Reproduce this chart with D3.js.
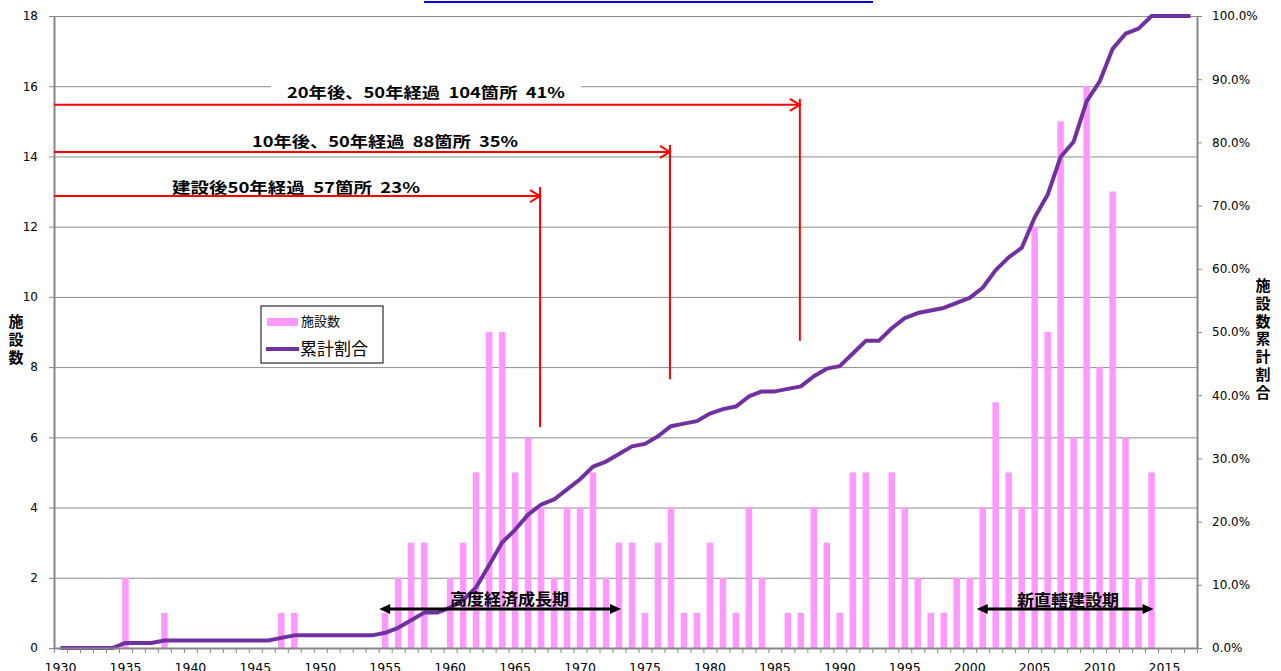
<!DOCTYPE html>
<html>
<head>
<meta charset="utf-8">
<script src="https://cdn.jsdelivr.net/npm/d3@7"></script>
<style>
body { margin: 0; background: #fff; }
text { font-family: "DejaVu Sans", Verdana, sans-serif; }
.jp { font-family: "Noto Sans CJK JP", sans-serif; }
</style>
</head>
<body>
<script>
// 年ごとの施設数 (1930-2017)
var years = d3.range(1930, 2018);
var counts = [
  0,0,0,0,0, 2,0,0,1,0,
  0,0,0,0,0, 0,0,1,1,0,
  0,0,0,0,0, 1,2,3,3,0,
  2,3,5,9,9, 5,6,4,2,4,
  4,5,2,3,3, 1,3,4,1,1,
  3,2,1,4,2, 0,1,1,4,3,
  1,5,5,0,5, 4,2,1,1,2,
  2,4,7,5,4, 12,9,15,6,16,
  8,13,6,2,5, 0,0,0
];
// 累計割合 (%)
var cumPct = [
  0,0,0,0,0, 0.8,0.8,0.8,1.2,1.2,
  1.2,1.2,1.2,1.2,1.2, 1.2,1.2,1.6,2.0,2.0,
  2.0,2.0,2.0,2.0,2.0, 2.4,3.2,4.4,5.6,5.6,
  6.4,7.6,9.6,13.1,16.7, 18.7,21.1,22.7,23.5,25.1,
  26.7,28.7,29.5,30.7,31.9, 32.3,33.5,35.1,35.5,35.9,
  37.1,37.8,38.2,39.8,40.6, 40.6,41.0,41.4,43.0,44.2,
  44.6,46.6,48.6,48.6,50.6, 52.2,53.0,53.4,53.8,54.6,
  55.4,57.0,59.8,61.8,63.3, 68.1,71.7,77.7,80.1,86.5,
  89.6,94.8,97.2,98.0,100, 100,100,100
];
var leftTicks = d3.range(0, 19, 2);
var rightTicks = d3.range(0, 101, 10);
var labelYears = d3.range(1930, 2018, 5);

// 50年経過の注記
var marks = [
  {year: 1967, text: "建設後50年経過  57箇所  23%"},
  {year: 1977, text: "10年後、50年経過  88箇所  35%"},
  {year: 1987, text: "20年後、50年経過  104箇所  41%"}
];
var periods = [
  {from: 1955, to: 1973, text: "高度経済成長期"},
  {from: 2001, to: 2014, text: "新直轄建設期"}
];

var W = 1281, H = 671;
var L = 54, R = 1197, T = 16, B = 648;

var svg = d3.select("body").append("svg").attr("width", W).attr("height", H);

var x = d3.scaleBand().domain(years).range([L, R]);
var xl = d3.scaleLinear().domain([1929.5, 2017.5]).range([L, R]);
var y = d3.scaleLinear().domain([0, 18]).range([B, T]);
var y2 = d3.scaleLinear().domain([0, 100]).range([B, T]);
var cx = function(yr) { return x(yr) + x.bandwidth() / 2; };

// title underline (cut off at top)
svg.append("line").attr("x1", 424).attr("x2", 873).attr("y1", 2).attr("y2", 2)
  .attr("stroke", "#0000ff").attr("stroke-width", 2);

// gridlines
svg.append("g").selectAll("line").data(leftTicks.slice(1)).join("line")
  .attr("x1", L).attr("x2", R)
  .attr("y1", function(d) { return y(d) + 0.5; }).attr("y2", function(d) { return y(d) + 0.5; })
  .attr("stroke", "#8c8c8c").attr("stroke-width", 1);

// bars
var bw = 6.5;
svg.append("g").selectAll("rect").data(years).join("rect")
  .attr("x", function(d) { return cx(d) - bw / 2; })
  .attr("width", bw)
  .attr("y", function(d, i) { return y(counts[i]); })
  .attr("height", function(d, i) { return B - y(counts[i]); })
  .attr("fill", "#ff99ff");

// cumulative line
var line = d3.line()
  .x(function(d) { return cx(d); })
  .y(function(d, i) { return y2(cumPct[i]); });
svg.append("path").datum(years).attr("d", line)
  .attr("fill", "none").attr("stroke", "#7030a0").attr("stroke-width", 4)
  .attr("stroke-linejoin", "round");

// axes
function styleAxis(g) {
  g.select(".domain").attr("stroke", "#868686").attr("stroke-width", 2);
  g.selectAll(".tick line").attr("stroke", "#868686");
  g.selectAll("text").attr("fill", "#000").attr("font-size", 12)
    .attr("font-family", "'DejaVu Sans', Verdana, sans-serif");
}
svg.append("g").attr("transform", "translate(" + L + ",0)")
  .call(d3.axisLeft(y).tickValues(leftTicks).tickSize(5).tickSizeOuter(0).tickPadding(11))
  .call(styleAxis);
svg.append("g").attr("transform", "translate(" + R + ",0)")
  .call(d3.axisRight(y2).tickValues(rightTicks).tickSize(5).tickSizeOuter(0).tickPadding(10)
    .tickFormat(function(d) { return d.toFixed(1) + "%"; }))
  .call(styleAxis);
svg.append("g").attr("transform", "translate(0," + B + ")")
  .call(d3.axisBottom(xl).tickValues(d3.range(1929.5, 2018, 1)).tickFormat("").tickSize(5).tickSizeOuter(0))
  .call(styleAxis);
svg.append("g").attr("transform", "translate(0," + B + ")")
  .call(d3.axisBottom(x).tickValues(labelYears).tickSize(0).tickPadding(15))
  .call(styleAxis)
  .call(function(g) { g.select(".domain").remove(); g.selectAll("text").attr("font-size", 12.5); });

// axis titles
svg.append("g").selectAll("text").data("施設数".split("")).join("text")
  .attr("class", "jp").attr("x", 16).attr("y", function(d, i) { return 327 + i * 17.8; })
  .attr("text-anchor", "middle").attr("font-size", 15).attr("font-weight", "bold").text(function(d) { return d; });
svg.append("g").selectAll("text").data("施設数累計割合".split("")).join("text")
  .attr("class", "jp").attr("x", 1263).attr("y", function(d, i) { return 291 + i * 17.8; })
  .attr("text-anchor", "middle").attr("font-size", 15).attr("font-weight", "bold").text(function(d) { return d; });

// annotations: 50年経過
var ann = [
  {hy: 12.87, top: 13.13, bot: 6.29, tx: 172, tw: 248, ty: 193},
  {hy: 14.13, top: 14.33, bot: 7.65, tx: 252, tw: 266, ty: 147},
  {hy: 15.47, top: 15.64, bot: 8.75, tx: 287, tw: 278, ty: 98}
];
var ag = svg.append("g");
marks.forEach(function(m, i) {
  var a = ann[i];
  ag.append("rect").attr("x", a.tx - 16).attr("y", a.ty - 18).attr("width", a.tw + 32).attr("height", 22)
    .attr("fill", "#fff");
  ag.append("text").attr("class", "jp").attr("x", a.tx).attr("y", a.ty)
    .attr("font-size", 15).attr("font-weight", "bold").attr("fill", "#000")
    .style("white-space", "pre")
    .attr("textLength", a.tw).attr("lengthAdjust", "spacingAndGlyphs")
    .text(m.text);
});
marks.forEach(function(m, i) {
  var a = ann[i], xe = cx(m.year) - 1, yy = y(a.hy);
  ag.append("line").attr("x1", L).attr("x2", xe).attr("y1", yy).attr("y2", yy)
    .attr("stroke", "#ff0000").attr("stroke-width", 2);
  ag.append("path").attr("d", "M" + (xe - 10) + "," + (yy - 6) + "L" + xe + "," + yy + "L" + (xe - 10) + "," + (yy + 6))
    .attr("fill", "none").attr("stroke", "#ff0000").attr("stroke-width", 2);
  ag.append("line").attr("x1", xe).attr("x2", xe).attr("y1", y(a.top)).attr("y2", y(a.bot))
    .attr("stroke", "#ff0000").attr("stroke-width", 2);
});

// period arrows
var pg = svg.append("g");
var py = y(1.11);
periods.forEach(function(p) {
  var x1 = cx(p.from) - 6, x2 = cx(p.to) + 2;
  pg.append("line").attr("x1", x1 + 8).attr("x2", x2 - 8).attr("y1", py).attr("y2", py)
    .attr("stroke", "#000").attr("stroke-width", 3);
  pg.append("path").attr("d", "M" + x1 + "," + py + "L" + (x1 + 11) + "," + (py - 5) + "L" + (x1 + 11) + "," + (py + 5) + "Z")
    .attr("fill", "#000");
  pg.append("path").attr("d", "M" + x2 + "," + py + "L" + (x2 - 11) + "," + (py - 5) + "L" + (x2 - 11) + "," + (py + 5) + "Z")
    .attr("fill", "#000");
});
pg.append("text").attr("class", "jp").attr("x", 450).attr("y", 605).attr("font-size", 16).attr("font-weight", "bold")
  .attr("textLength", 119).attr("lengthAdjust", "spacingAndGlyphs").text(periods[0].text);
pg.append("text").attr("class", "jp").attr("x", 1017).attr("y", 606).attr("font-size", 16).attr("font-weight", "bold")
  .attr("textLength", 102).attr("lengthAdjust", "spacingAndGlyphs").text(periods[1].text);

// legend
var lg = svg.append("g").attr("transform", "translate(261,306)");
lg.append("rect").attr("width", 122).attr("height", 57).attr("fill", "#fff").attr("stroke", "#000").attr("stroke-width", 1);
lg.append("rect").attr("x", 6).attr("y", 12).attr("width", 31).attr("height", 8).attr("fill", "#ff99ff");
lg.append("text").attr("class", "jp").attr("x", 40).attr("y", 20).attr("font-size", 13).text("施設数");
lg.append("line").attr("x1", 5).attr("x2", 38).attr("y1", 43).attr("y2", 43).attr("stroke", "#7030a0").attr("stroke-width", 4);
lg.append("text").attr("class", "jp").attr("x", 39).attr("y", 49).attr("font-size", 17).text("累計割合");
</script>
</body>
</html>
